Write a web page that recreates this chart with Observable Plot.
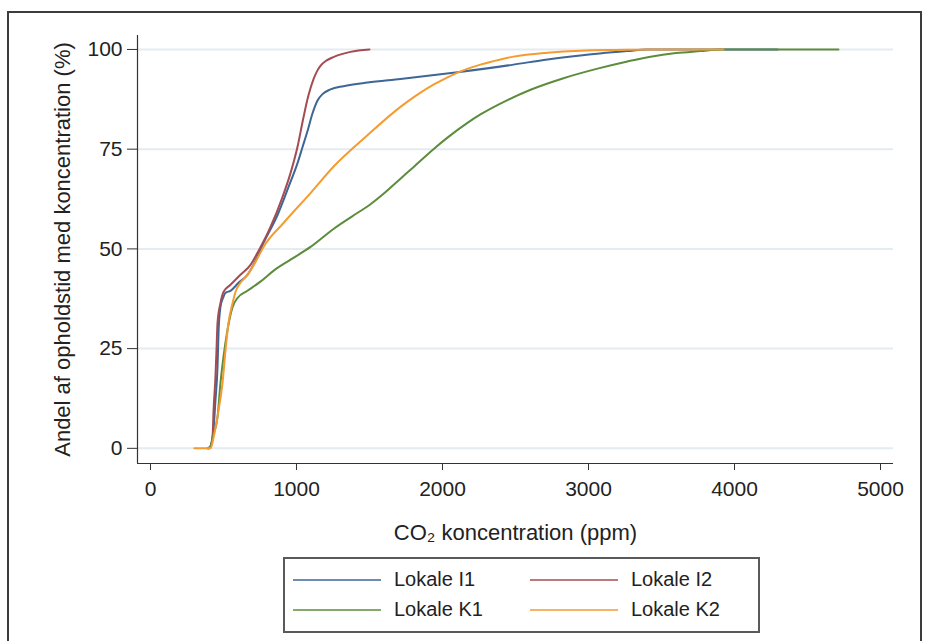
<!DOCTYPE html>
<html><head><meta charset="utf-8">
<script src="https://cdn.jsdelivr.net/npm/d3@7"></script>
<script src="https://cdn.jsdelivr.net/npm/@observablehq/plot@0.6"></script>
<style>
body{margin:0;background:#fff;font-family:"Liberation Sans",Arial,sans-serif;}
#wrap{position:relative;width:931px;height:641px;overflow:hidden;background:#fff;}
#border{position:absolute;left:7px;top:11px;width:915px;height:700px;border:2px solid #3c3c3c;box-sizing:border-box;}
#chart{position:absolute;left:0;top:0;}
#legend{position:absolute;left:283px;top:557px;width:477px;height:76px;border:2px solid #5a5a5a;box-sizing:border-box;background:#fff;}
.item{position:absolute;display:flex;align-items:center;font-size:20px;color:#222;white-space:nowrap;}
.item svg{margin-right:13px;}
</style>
</head><body>
<div id="wrap"><div id="border"></div><div id="chart"></div><div id="legend"></div></div>
<script>
const seriesNames = ["Lokale I1","Lokale I2","Lokale K1","Lokale K2"];
const seriesColors = ["#3e6696","#a44c52","#5c8c3c","#f59b30"];

const i1Ppm = [390,410,425,432,445,459,466,479,500,514,548,603,664,719,774,870,945,1007,1041,1075,1110,1144,1178,1233,1322,1486,1712,2103,2486,2719,2945,3267,3400,4295];
const i1Pct = [0,0.5,2.7,5,12,20.4,29,35.4,38,39,39.5,41.5,43.5,47,51.5,58.5,65.5,71.5,75.5,79.5,84,87.2,88.8,90,90.8,91.7,92.6,94.3,96.2,97.5,98.5,99.6,100,100];

const i2Ppm = [400,412,425,432,445,452,459,479,500,548,616,685,740,822,904,959,1007,1048,1082,1116,1140,1164,1200,1253,1370,1500];
const i2Pct = [0,0.5,2.7,9.5,18,24.6,31.4,36.4,39.2,41,43.5,46,49.5,55.5,63,69,75.6,83,88.5,92.5,94.5,95.9,97.1,98.1,99.4,100];

const k1Ppm = [395,412,425,459,479,500,527,562,596,664,753,842,959,1096,1253,1438,1500,1596,1712,1801,1938,2034,2171,2260,2445,2603,2829,3062,3267,3425,3600,3767,3904,4712];
const k1Pct = [0,0.5,2.7,7.8,16.3,22.9,29.6,35.4,37.7,39.5,41.8,44.5,47.3,50.5,55,59.5,61,63.8,67.6,70.5,75,77.9,81.6,83.7,87.3,89.9,92.8,95.2,97,98.2,99.1,99.6,100,100];

const k2Ppm = [300,411,432,466,493,514,534,562,582,616,664,719,774,911,1096,1253,1486,1712,1801,1938,2034,2103,2260,2397,2486,2719,2945,3267,3400,3925];
const k2Pct = [0,0,2.7,9.5,16.3,24.6,31.4,36.4,39.2,41.5,43.5,46.7,50.5,56.5,64,70.6,78.5,85.6,88,91.2,93,94.2,96.2,97.5,98.2,99.2,99.7,99.9,100,100];

const xTicks = [0,1000,2000,3000,4000,5000];
const yTicks = [0,25,50,75,100];
const xDomain = [-89,5089];
const yDomain = [-3.8,103.5];

const seriesData = [[i1Ppm,i1Pct],[i2Ppm,i2Pct],[k1Ppm,k1Pct],[k2Ppm,k2Pct]];
const rows = [];
seriesData.forEach(([xs,ys],k)=>xs.forEach((x,i)=>rows.push({series:seriesNames[k],ppm:x,pct:ys[i]})));

const chart = Plot.plot({
  width:931, height:560,
  marginLeft:137, marginRight:38, marginTop:35, marginBottom:97,
  style:{fontFamily:'"Liberation Sans",Arial,sans-serif',fontSize:"21px",color:"#333",background:"transparent"},
  x:{domain:xDomain},
  y:{domain:yDomain},
  color:{domain:seriesNames,range:seriesColors},
  marks:[
    Plot.gridY(yTicks,{stroke:"#e5ecef",strokeOpacity:1,strokeWidth:2}),
    Plot.line(rows,{x:"ppm",y:"pct",z:"series",stroke:"series",strokeWidth:2,curve:"monotone-x"}),
    Plot.ruleX([xDomain[0]],{stroke:"#333",strokeWidth:1.2}),
    Plot.ruleY([yDomain[0]],{stroke:"#333",strokeWidth:1.2}),
    Plot.axisX(xTicks,{tickSize:7,tickPadding:11,stroke:"#333",fill:"#222",tickFormat:d=>String(d),label:null}),
    Plot.axisX({label:"CO₂ koncentration (ppm)",ticks:[],labelArrow:"none",labelAnchor:"center",labelOffset:76,fontSize:22,fill:"#222",tickSize:0}),
    Plot.axisY(yTicks,{tickSize:10,tickPadding:5,stroke:"#333",fill:"#222",tickFormat:d=>String(d),label:null}),
    Plot.axisY({label:"Andel af opholdstid med koncentration (%)",ticks:[],labelArrow:"none",labelAnchor:"center",labelOffset:83,fontSize:22,fill:"#222",tickSize:0})
  ]
});
document.getElementById("chart").appendChild(chart);

const lg = document.getElementById("legend");
const pos = [[8,9],[245,9],[8,39],[245,39]];
seriesNames.forEach((n,i)=>{
  const d = document.createElement("div");
  d.className="item";
  d.style.left=pos[i][0]+"px"; d.style.top=pos[i][1]+"px";
  d.innerHTML=`<svg width="88" height="4"><line x1="0" x2="88" y1="2" y2="2" stroke="${seriesColors[i]}" stroke-width="1.5"/></svg><span>${n}</span>`;
  lg.appendChild(d);
});
</script>
</body></html>
